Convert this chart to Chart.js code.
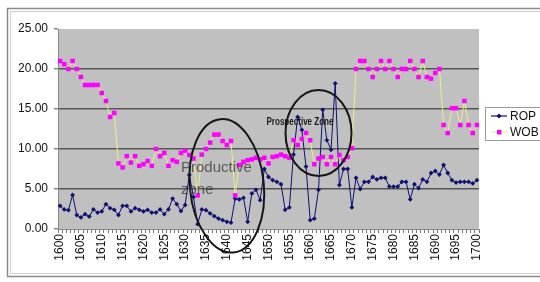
<!DOCTYPE html>
<html><head><meta charset="utf-8">
<script src="https://cdn.jsdelivr.net/npm/chart.js@4/dist/chart.umd.min.js"></script>
<style>html,body{margin:0;padding:0;background:#fff;}#wrap{width:540px;height:282px;position:relative;}</style>
</head><body><div id="wrap"><canvas id="c" width="540" height="282"></canvas></div>
<script>
const depths = [];
for (let d = 1600; d <= 1700; d++) depths.push(String(d));
const tickLabels = ['1600','1605','1610','1615','1620','1625','1630','1635','1640','1645','1650','1655','1660','1665','1670','1675','1680','1685','1690','1695','1700'];
const yTicks = [0, 5, 10, 15, 20, 25];
const seriesNames = ['ROP', 'WOB'];
const rop = [2.9,2.45,2.35,4.25,1.75,1.45,1.85,1.55,2.45,2.05,
  2.2,3.1,2.6,2.4,1.75,2.9,2.9,2.2,2.6,2.4,
  2.2,2.4,2.05,2.05,2.45,1.85,2.45,3.8,3.1,2.25,
  3.0,6.75,4.0,0.6,2.45,2.35,1.95,1.6,1.3,1.1,
  0.9,0.8,3.8,3.7,3.9,0.9,4.45,4.9,3.6,7.5,
  6.5,6.1,5.9,5.6,2.4,2.7,9.3,14.0,12.4,7.8,
  1.1,1.3,4.9,14.9,11.1,9.9,18.2,5.5,7.5,7.5,
  2.7,6.4,5.0,5.9,5.9,6.5,6.2,6.4,6.4,5.3,
  5.3,5.3,5.9,5.9,3.7,5.6,5.1,6.2,5.9,7.0,
  7.25,6.8,8.0,7.0,6.1,5.8,5.9,5.9,5.9,5.7,6.1];
const wob = [21.0,20.6,20.0,21.0,20.0,19.0,18.0,18.0,18.0,18.0,
  17.0,16.0,14.0,14.5,8.2,7.7,9.1,8.3,9.1,7.9,
  8.1,8.5,7.9,10.0,9.1,9.5,7.9,8.6,8.4,9.5,
  9.8,9.25,8.8,4.2,9.3,10.0,10.8,11.8,11.8,11.0,
  10.5,11.0,4.2,8.0,8.4,8.6,8.7,8.9,8.7,8.9,
  8.2,9.0,9.1,9.3,9.1,8.9,11.1,10.5,11.25,12.0,
  11.1,8.1,8.8,9.0,8.1,9.0,8.1,9.25,8.6,9.0,
  10.1,20.0,21.0,21.0,20.0,19.0,20.0,21.0,20.0,21.0,
  20.0,19.0,20.0,20.0,21.0,20.0,19.0,21.0,19.0,18.8,
  19.5,20.0,13.0,12.0,15.1,15.1,13.0,16.0,13.0,12.0,13.0];
const annotations = [
  {type:'ellipse', cx:'1640', cy:5.4, rx:37, ry:67, rot:-0.1},
  {type:'ellipse', cx:'1662', cy:12.0, rx:33, ry:43, rot:0},
];

const FONT = '"Liberation Sans", Arial, sans-serif';
const ROP_COLOR = '#101070';
const WOB_COLOR = '#ff00ff';
const WOB_LINE = '#eeee88';

const decor = {
  id: 'decor',
  beforeDraw(chart) {
    const ctx = chart.ctx, a = chart.chartArea;
    ctx.save();
    ctx.fillStyle = '#fff';
    ctx.fillRect(0, 0, chart.width, chart.height);
    ctx.strokeStyle = '#8a8a8a'; ctx.lineWidth = 1.5;
    ctx.strokeRect(7.5, 8.5, 560, 268);
    ctx.strokeStyle = '#cfcfcf'; ctx.lineWidth = 1;
    ctx.strokeRect(10.5, 11.5, 560, 262);
    ctx.fillStyle = '#c0c0c0';
    ctx.fillRect(a.left, a.top, a.right - a.left, a.bottom - a.top);
    ctx.restore();
  },
  afterDatasetsDraw(chart) {
    const ctx = chart.ctx, xs = chart.scales.x, ys = chart.scales.y;
    ctx.save();
    ctx.strokeStyle = '#151515'; ctx.lineWidth = 2;
    annotations.forEach(an => {
      const cx = xs.getPixelForValue(depths.indexOf(an.cx));
      const cy = ys.getPixelForValue(an.cy);
      ctx.beginPath();
      ctx.ellipse(cx, cy, an.rx, an.ry, an.rot, 0, Math.PI * 2);
      ctx.stroke();
    });
    // text labels
    ctx.fillStyle = 'rgba(70,70,70,0.85)';
    ctx.font = '15px ' + FONT;
    ctx.textBaseline = 'middle'; ctx.textAlign = 'left';
    const px = xs.getPixelForValue(depths.indexOf('1629'));
    ctx.fillText('Productive', px, ys.getPixelForValue(7.6));
    ctx.fillText('zone', px, ys.getPixelForValue(4.9));
    ctx.fillStyle = '#1a1a1a';
    ctx.font = 'bold 10px ' + FONT;
    const qx = xs.getPixelForValue(depths.indexOf('1650'));
    ctx.fillText('Prospective Zone', qx - 2, ys.getPixelForValue(13.4), 67);
    // legend
    const lx = 485, ly = 107;
    ctx.fillStyle = '#fff';
    ctx.fillRect(lx, ly, 70, 33);
    ctx.strokeStyle = '#9a9a9a'; ctx.lineWidth = 1;
    ctx.strokeRect(lx + 0.5, ly + 0.5, 70, 33);
    ctx.font = '12px ' + FONT;
    ctx.fillStyle = '#111';
    const rows = [{name: seriesNames[0], y: ly + 9, line: ROP_COLOR, pt: ROP_COLOR, style: 'diamond'},
                  {name: seriesNames[1], y: ly + 25, line: WOB_LINE, pt: WOB_COLOR, style: 'rect'}];
    rows.forEach(r => {
      ctx.strokeStyle = r.line; ctx.lineWidth = 1.2;
      ctx.beginPath(); ctx.moveTo(lx + 6, r.y); ctx.lineTo(lx + 22, r.y); ctx.stroke();
      ctx.fillStyle = r.pt;
      if (r.style === 'diamond') {
        ctx.beginPath(); ctx.moveTo(lx + 14, r.y - 2.5); ctx.lineTo(lx + 16.5, r.y); ctx.lineTo(lx + 14, r.y + 2.5); ctx.lineTo(lx + 11.5, r.y); ctx.closePath(); ctx.fill();
      } else {
        ctx.fillRect(lx + 12, r.y - 2, 4.5, 4.5);
      }
      ctx.fillStyle = '#111';
      ctx.fillText(r.name, lx + 25, r.y + 0.5);
    });
    ctx.restore();
  }
};

new Chart(document.getElementById('c'), {
  type: 'line',
  data: {
    labels: depths,
    datasets: [
      {label: seriesNames[0], data: rop, borderColor: ROP_COLOR, backgroundColor: ROP_COLOR,
       borderWidth: 1, pointStyle: 'rectRot', pointRadius: 2.4, pointBorderWidth: 0, tension: 0, order: 2},
      {label: seriesNames[1], data: wob, borderColor: WOB_LINE, backgroundColor: WOB_COLOR,
       pointBackgroundColor: WOB_COLOR, pointBorderColor: WOB_COLOR,
       borderWidth: 1, pointStyle: 'rect', pointRadius: 3.2, pointBorderWidth: 0, tension: 0, order: 1}
    ]
  },
  options: {
    responsive: false, animation: false,
    layout: {padding: {left: 0, right: 61, top: 29, bottom: 0}},
    plugins: {legend: {display: false}, tooltip: {enabled: false}},
    scales: {
      x: {
        type: 'category', offset: true,
        grid: {display: true, drawOnChartArea: false, drawTicks: true, tickLength: 4, color: '#777', offset: true},
        border: {display: true, color: '#888', width: 1},
        ticks: {autoSkip: false, maxRotation: 90, minRotation: 90, padding: 1,
          color: '#111', font: {family: FONT, size: 12},
          callback: function(v, i) { const l = depths[i]; return tickLabels.includes(l) ? l : ''; }},
        afterFit(s) { s.height = 53; }
      },
      y: {
        min: 0, max: 25,
        afterBuildTicks(s) { s.ticks = yTicks.map(v => ({value: v})); },
        grid: {color: (c) => (c.tick && c.tick.value > 0 && c.tick.value < 25) ? '#555' : 'rgba(0,0,0,0)', lineWidth: 1.5,
               drawTicks: true, tickLength: 4, tickColor: '#888'},
        border: {display: true, color: '#888', width: 1},
        ticks: {padding: 6, color: '#111', font: {family: FONT, size: 12},
          callback: v => Number(v).toFixed(2)},
        afterFit(s) { s.width = 58; }
      }
    }
  },
  plugins: [decor]
});
</script></body></html>
